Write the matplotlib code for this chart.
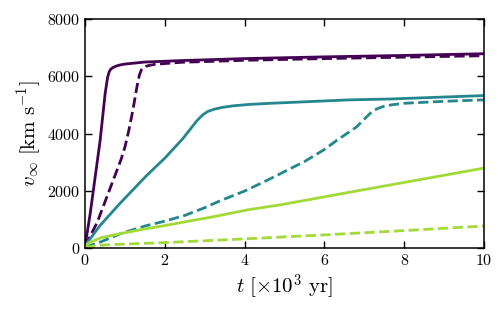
import numpy as np
import matplotlib
matplotlib.use("Agg")
import matplotlib.pyplot as plt

plt.rcParams['font.family'] = 'serif'
plt.rcParams['font.serif'] = ['cmr10']
plt.rcParams['mathtext.fontset'] = 'cm'
plt.rcParams['axes.formatter.use_mathtext'] = True
plt.rcParams['axes.unicode_minus'] = False

# t in 10^3 yr, v_inf in km/s
t_p_solid = [0, 0.125, 0.375, 0.5, 0.56, 0.6, 0.64, 0.7, 0.78, 0.88, 1.0, 1.5, 2.4, 4, 6, 8, 10]
v_p_solid = [100, 1200, 3760, 5390, 5950, 6150, 6250, 6310, 6360, 6400, 6430, 6500, 6550, 6620, 6680, 6730, 6790]

t_p_dash = [0, 0.3, 0.6, 0.9, 1.0, 1.1, 1.2, 1.3, 1.36, 1.41, 1.46, 1.52, 1.6, 1.75, 2.4, 4, 6, 8, 10]
v_p_dash = [80, 900, 2000, 3100, 3550, 4150, 4850, 5650, 6050, 6230, 6310, 6350, 6380, 6420, 6490, 6560, 6620, 6670, 6720]

t_t_solid = [0, 0.375, 0.875, 1.54, 2.0, 2.45, 2.8, 2.95, 3.08, 3.25, 3.45, 3.7, 4.1, 4.64, 6.62, 7.64, 10]
v_t_solid = [100, 800, 1570, 2540, 3150, 3830, 4450, 4660, 4780, 4860, 4920, 4970, 5020, 5060, 5180, 5210, 5330]

t_t_dash = [0, 0.4, 0.9, 1.5, 2.0, 2.5, 3.0, 3.4, 4.0, 4.6, 5.0, 5.5, 6.0, 6.3, 6.8, 7.05, 7.2, 7.35, 7.5, 7.7, 8, 9, 10]
v_t_dash = [40, 230, 520, 780, 950, 1150, 1420, 1670, 2000, 2400, 2680, 3030, 3450, 3760, 4230, 4580, 4780, 4890, 4960, 5010, 5060, 5130, 5180]

t_g_solid = [0, 0.1, 0.4, 0.9, 1.5, 1.9, 2.7, 3.2, 4.1, 4.9, 6.6, 8, 10]
v_g_solid = [80, 200, 370, 520, 680, 770, 975, 1100, 1350, 1520, 1950, 2300, 2800]

t_g_dash = [0, 0.5, 1, 2, 4, 6, 8, 10]
v_g_dash = [40, 120, 150, 200, 330, 470, 620, 780]

c_purple = '#440154'
c_teal = '#24878e'
c_green = '#a2da38'
lw = 2.0

fig = plt.figure(figsize=(4.98, 3.12), dpi=100)
ax = fig.add_axes([0.171, 0.204, 0.801, 0.735])

ax.plot(t_p_solid, v_p_solid, c=c_purple, lw=lw)
ax.plot(t_p_dash, v_p_dash, c=c_purple, lw=lw, ls='--')
ax.plot(t_t_solid, v_t_solid, c=c_teal, lw=lw)
ax.plot(t_t_dash, v_t_dash, c=c_teal, lw=lw, ls='--')
ax.plot(t_g_solid, v_g_solid, c=c_green, lw=lw)
ax.plot(t_g_dash, v_g_dash, c=c_green, lw=lw, ls='--')

ax.set_xlim(0, 10)
ax.set_ylim(0, 8000)
ax.set_xticks([0, 2, 4, 6, 8, 10])
ax.set_yticks([0, 2000, 4000, 6000, 8000])
ax.tick_params(direction='in', top=True, right=True, length=5, width=1, labelsize=11.5)
for s in ax.spines.values():
    s.set_linewidth(1.1)

ax.set_xlabel(r'$t\ [\times 10^3\ \mathrm{yr}]$', fontsize=15, labelpad=3)
ax.set_ylabel(r'$v_\infty\ [\mathrm{km\ s^{-1}}]$', fontsize=15, labelpad=2)

fig.savefig('out.png', dpi=100)
